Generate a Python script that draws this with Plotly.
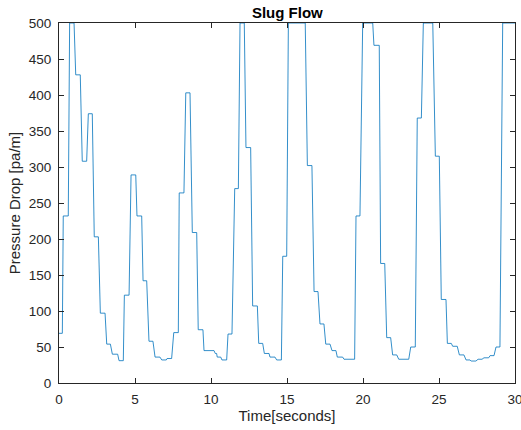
import plotly.graph_objects as go

time_s = [0.0, 0.22, 0.28, 0.61, 0.70, 0.99, 1.10, 1.40, 1.53, 1.82, 1.93, 2.19,
          2.32, 2.59, 2.72, 3.03, 3.14, 3.38, 3.51, 3.86, 3.95, 4.23, 4.30, 4.61,
          4.74, 5.05, 5.13, 5.44, 5.53, 5.77, 5.92, 6.18, 6.32, 6.64, 6.76, 7.06,
          7.11, 7.41, 7.55, 7.85, 7.91, 8.22, 8.34, 8.62, 8.77, 9.06, 9.16, 9.47,
          9.54, 10.20, 10.28, 10.37, 10.41, 10.64, 10.72, 11.03, 11.12, 11.38,
          11.56, 11.80, 11.91, 12.19, 12.30, 12.61, 12.74, 13.05, 13.14, 13.40,
          13.51, 13.82, 13.88, 14.21, 14.32, 14.63, 14.72, 14.98, 15.09, 16.20,
          16.34, 16.64, 16.78, 17.04, 17.17, 17.43, 17.55, 17.83, 17.96, 18.22,
          18.31, 18.66, 18.75, 19.45, 19.54, 19.80, 19.98, 20.64, 20.72, 21.07,
          21.16, 21.43, 21.56, 21.82, 21.95, 22.22, 22.35, 23.01, 23.14, 23.44,
          23.57, 23.84, 23.97, 24.59, 24.76, 25.02, 25.15, 25.46, 25.55, 25.81,
          25.90, 26.20, 26.34, 26.64, 26.78, 27.04, 27.11, 27.43, 27.57, 27.83,
          27.96, 28.27, 28.36, 28.62, 28.75, 29.01, 29.19, 30.0]

pressure_drop = [69, 69, 232, 232, 500, 500, 428, 428, 308, 308, 374, 374,
                 203, 203, 97, 97, 54, 54, 40, 40, 31, 31, 122, 122,
                 289, 289, 232, 232, 142, 142, 58, 58, 36, 36, 32, 32,
                 34, 34, 70, 70, 264, 264, 403, 403, 209, 209, 74, 74,
                 45, 45, 41, 41, 36, 36, 32, 32, 68, 68,
                 270, 270, 500, 500, 327, 327, 107, 107, 55, 55,
                 41, 41, 36, 36, 32, 32, 176, 176, 500, 500,
                 302, 302, 127, 127, 82, 82, 54, 54, 45, 45,
                 36, 36, 33, 33, 232, 232, 500, 500, 469, 469,
                 166, 166, 63, 63, 39, 39, 33, 33, 50, 50,
                 368, 368, 500, 500, 315, 315, 116, 116, 55, 55,
                 51, 51, 39, 39, 32, 32, 30.5, 30.5, 33, 33,
                 35, 35, 38, 38, 50, 50, 500, 500]

x_ticks = [0, 5, 10, 15, 20, 25, 30]
y_ticks = [0, 50, 100, 150, 200, 250, 300, 350, 400, 450, 500]

axis_color = "#262626"
font_family = "Liberation Sans, Arial, sans-serif"

fig = go.Figure()
fig.add_trace(go.Scatter(
    x=time_s, y=pressure_drop, mode="lines",
    line=dict(color="#0072BD", width=0.8),
    showlegend=False,
))

axis_common = dict(
    showgrid=False, zeroline=False, showline=True, linecolor=axis_color,
    linewidth=1, mirror="ticks", ticks="inside", ticklen=5, tickwidth=1,
    tickcolor=axis_color, ticklabeloverflow="allow", automargin=False,
    tickfont=dict(family=font_family, size=13.5, color=axis_color),
)

fig.update_layout(
    width=521, height=430,
    margin=dict(l=59, r=6, t=23, b=47),
    paper_bgcolor="white", plot_bgcolor="white",
    title=dict(text="<b>Slug Flow</b>", x=0.5515, xanchor="center", y=0.9705, yanchor="middle",
               font=dict(family=font_family, size=15, color="black")),
    xaxis=dict(range=[0, 30], tickvals=x_ticks, ticktext=[str(v) for v in x_ticks],
               ticklabelstandoff=4,
               title=dict(text="Time[seconds]", standoff=1,
                          font=dict(family=font_family, size=15, color=axis_color)),
               **axis_common),
    yaxis=dict(range=[0, 500], tickvals=y_ticks, ticktext=[str(v) for v in y_ticks],
               ticklabelstandoff=4,
               title=dict(text="Pressure Drop [pa/m]", standoff=4,
                          font=dict(family=font_family, size=15, color=axis_color)),
               **axis_common),
)

fig.write_html("out.html")
